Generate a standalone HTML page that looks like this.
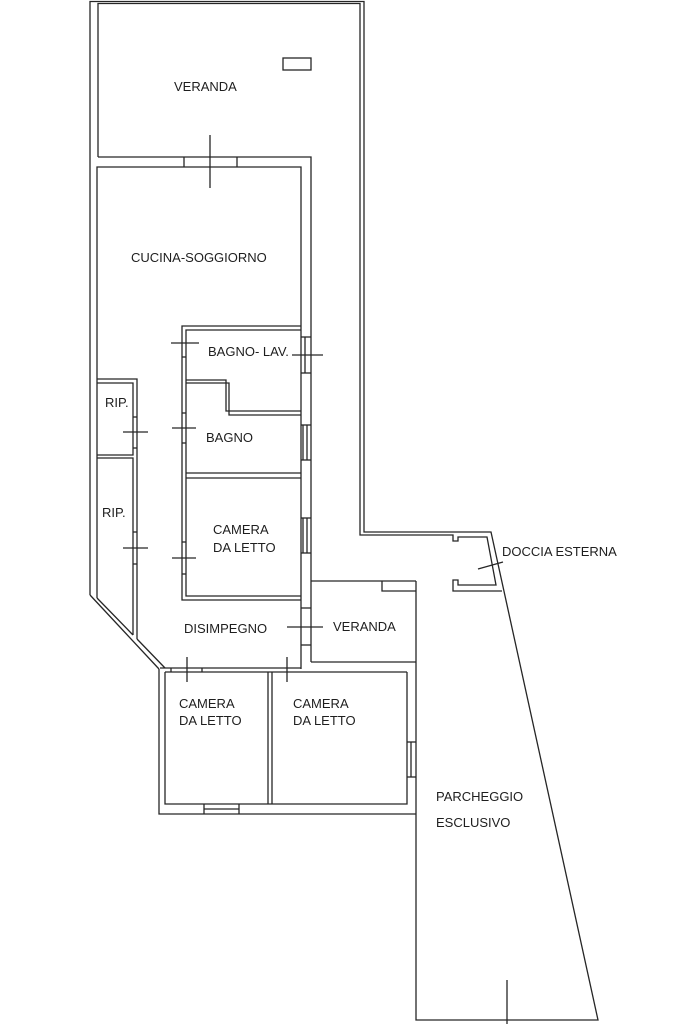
<!DOCTYPE html>
<html>
<head>
<meta charset="utf-8">
<style>
html,body{margin:0;padding:0;background:#fff;}
svg{display:block;}
text{font-family:"Liberation Sans",Arial,sans-serif;font-size:13px;fill:#1e1e1e;}
</style>
</head>
<body>
<svg width="683" height="1024" viewBox="0 0 683 1024" xmlns="http://www.w3.org/2000/svg">
<g fill="none" stroke="#262626" stroke-width="1.3">
<!-- outer envelope -->
<polyline points="90,595 90,1.5 364,1.5 364,532 491,532 598,1020 416,1020 416,581"/>
<line x1="90" y1="595" x2="159" y2="669"/>
<polyline points="159,669 159,814 416,814"/>
<!-- inner veranda / shower -->
<polyline points="98,157 98,3.5 360,3.5 360,535 453,535 453,541 458,541 458,537 487,537 496,585 458,585 458,580 453,580 453,591 502,591"/>
<!-- veranda bottom / kitchen top -->
<polyline points="98,157 311,157 311,662"/>
<polyline points="97,598 97,167 301,167 301,669"/>
<line x1="184" y1="157" x2="184" y2="167"/>
<line x1="237" y1="157" x2="237" y2="167"/>
<line x1="210" y1="135" x2="210" y2="188"/>
<rect x="283" y="58" width="28" height="12"/>
<!-- inner diagonal -->
<line x1="97" y1="598" x2="133" y2="635"/>
<line x1="137" y1="639" x2="165" y2="668"/>
<!-- RIP blocks -->
<polyline points="97,379 137,379 137,639"/>
<polyline points="97,383 133,383 133,455 97,455"/>
<polyline points="97,458 133,458 133,635"/>
<line x1="133" y1="417" x2="137" y2="417"/>
<line x1="133" y1="448" x2="137" y2="448"/>
<line x1="123" y1="432" x2="148" y2="432"/>
<line x1="133" y1="532" x2="137" y2="532"/>
<line x1="133" y1="564" x2="137" y2="564"/>
<line x1="123" y1="548" x2="148" y2="548"/>
<!-- central block -->
<polyline points="301,326 182,326 182,600 301,600"/>
<polyline points="301,330 186,330 186,596 301,596"/>
<polyline points="186,380 226,380 226,411 301,411"/>
<polyline points="186,383 229,383 229,415 301,415"/>
<line x1="186" y1="473" x2="301" y2="473"/>
<line x1="186" y1="478" x2="301" y2="478"/>
<!-- left doors of central block -->
<line x1="182" y1="357" x2="186" y2="357"/>
<line x1="171" y1="343" x2="199" y2="343"/>
<line x1="182" y1="413" x2="186" y2="413"/>
<line x1="182" y1="443" x2="186" y2="443"/>
<line x1="172" y1="428" x2="196" y2="428"/>
<line x1="182" y1="542" x2="186" y2="542"/>
<line x1="182" y1="574" x2="186" y2="574"/>
<line x1="172" y1="558" x2="196" y2="558"/>
<!-- windows right wall -->
<line x1="301" y1="337" x2="311" y2="337"/>
<line x1="301" y1="373" x2="311" y2="373"/>
<line x1="305" y1="337" x2="305" y2="373"/>
<line x1="292" y1="355" x2="323" y2="355"/>
<line x1="301" y1="425" x2="311" y2="425"/>
<line x1="301" y1="460" x2="311" y2="460"/>
<line x1="303" y1="425" x2="303" y2="460"/>
<line x1="307" y1="425" x2="307" y2="460"/>
<line x1="301" y1="518" x2="311" y2="518"/>
<line x1="301" y1="553" x2="311" y2="553"/>
<line x1="303" y1="518" x2="303" y2="553"/>
<line x1="307" y1="518" x2="307" y2="553"/>
<!-- door to veranda -->
<line x1="301" y1="608" x2="311" y2="608"/>
<line x1="301" y1="645" x2="311" y2="645"/>
<line x1="287" y1="627" x2="323" y2="627"/>
<!-- veranda 2 -->
<polyline points="311,581 416,581"/>
<polyline points="382,581 382,591 416,591"/>
<line x1="311" y1="662" x2="416" y2="662"/>
<!-- disimpegno bottom / bedrooms -->
<line x1="160" y1="668" x2="301" y2="668"/>
<line x1="165" y1="672" x2="407" y2="672"/>
<line x1="171" y1="668" x2="171" y2="672"/>
<line x1="202" y1="668" x2="202" y2="672"/>
<line x1="187" y1="657" x2="187" y2="682"/>
<line x1="287" y1="657" x2="287" y2="682"/>
<polyline points="165,672 165,804 407,804 407,672"/>
<line x1="268" y1="672" x2="268" y2="804"/>
<line x1="272" y1="672" x2="272" y2="804"/>
<!-- bottom window -->
<line x1="204" y1="804" x2="204" y2="814"/>
<line x1="239" y1="804" x2="239" y2="814"/>
<line x1="204" y1="809" x2="239" y2="809"/>
<!-- right window camera 2 -->
<line x1="407" y1="742" x2="416" y2="742"/>
<line x1="407" y1="777" x2="416" y2="777"/>
<line x1="411" y1="742" x2="411" y2="777"/>
<!-- shower door -->
<line x1="478" y1="569" x2="503" y2="562"/>
<!-- parking tick -->
<line x1="507" y1="980" x2="507" y2="1024"/>
</g>
<text x="174" y="91">VERANDA</text>
<text x="131" y="262">CUCINA-SOGGIORNO</text>
<text x="208" y="356">BAGNO- LAV.</text>
<text x="105" y="407">RIP.</text>
<text x="206" y="442">BAGNO</text>
<text x="102" y="517">RIP.</text>
<text x="213" y="534">CAMERA</text>
<text x="213" y="552">DA LETTO</text>
<text x="184" y="633">DISIMPEGNO</text>
<text x="333" y="631">VERANDA</text>
<text x="502" y="556">DOCCIA ESTERNA</text>
<text x="179" y="708">CAMERA</text>
<text x="179" y="725">DA LETTO</text>
<text x="293" y="708">CAMERA</text>
<text x="293" y="725">DA LETTO</text>
<text x="436" y="801">PARCHEGGIO</text>
<text x="436" y="827">ESCLUSIVO</text>
</svg>
</body>
</html>
